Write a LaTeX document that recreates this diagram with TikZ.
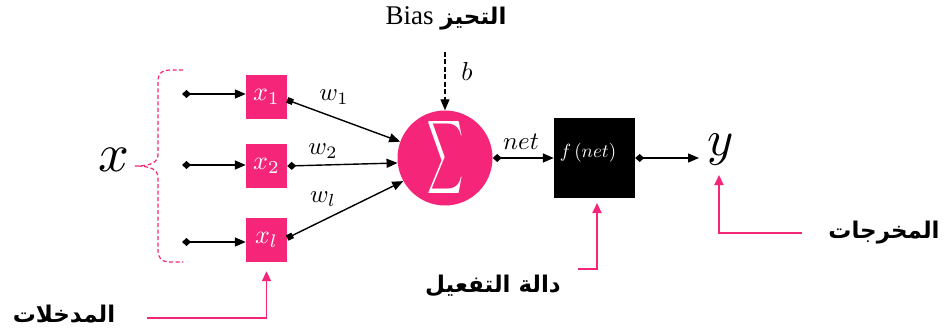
\documentclass[tikz,border=0pt]{standalone}
\usepackage{fontspec}
\usetikzlibrary{arrows.meta}
\TeXXeTstate=1
\newfontfamily\arabicfont[Script=Arabic]{DejaVu Sans}
\newfontfamily\biasfont{Liberation Serif}
\definecolor{mypink}{HTML}{F5267A}
\newcommand{\mth}[2]{\scalebox{#1}{$#2$}}
\tikzset{
  inbox/.style={fill=mypink, minimum width=41pt, minimum height=44pt, inner sep=0pt, text=white},
  blk/.style={line width=1.4pt, draw=black},
  pinkarrow/.style={line width=1.8pt, draw=mypink, -{Triangle[length=10pt,width=9pt]}},
  lbl/.style={inner sep=0pt},
  arlbl/.style={font=\arabicfont\bfseries\fontsize{23}{23}\selectfont, inner sep=0pt}
}
\begin{document}
\begin{tikzpicture}[x=1pt,y=-1pt]
\useasboundingbox (0,0) rectangle (944,331);

% brace
\draw[mypink, line width=1.2pt, dash pattern=on 4pt off 2.5pt]
  (183,70) -- (171,70) .. controls (161,70) and (158,74) .. (158,82) -- (158,154)
  .. controls (158,162) and (152,166) .. (135,166)
  .. controls (152,166) and (158,170) .. (158,178) -- (158,250)
  .. controls (158,258) and (161,262) .. (171,262) -- (183,262);
\node[inner sep=0pt] (xlab) at (114,160) {\mth{5.4}{x}};

% input boxes
\node[inbox] (x1) at (266.5,97) {\mth{2.6}{x_1}};
\node[inbox] (x2) at (266.5,166) {\mth{2.6}{x_2}};
\node[inbox] (xl) at (266.5,240) {\mth{2.6}{x_l}};

\coordinate (s1) at (182,94);
\coordinate (s2) at (182,165);
\coordinate (s3) at (182,242);
\draw[blk, {Diamond[length=9pt,width=8pt]}-{Triangle[length=11pt,width=9pt]}] (s1) -- (s1 -| x1.west);
\draw[blk, {Diamond[length=9pt,width=8pt]}-{Triangle[length=11pt,width=9pt]}] (s2) -- (s2 -| x2.west);
\draw[blk, {Diamond[length=9pt,width=8pt]}-{Triangle[length=11pt,width=9pt]}] (s3) -- (s3 -| xl.west);

% summation
\node[circle, fill=mypink, minimum size=95pt, inner sep=0pt, text=white] (sig) at (445,158)
  {\resizebox{36pt}{54pt}{$\displaystyle\sum$}};

\draw[blk, {Square[length=6pt,width=6pt]}-{Triangle[length=11pt,width=9pt]}] ([yshift=-3pt]x1.east) -- (sig.160);
\draw[blk, {Diamond[length=9pt,width=8pt]}-{Triangle[length=11pt,width=9pt]}] (x2.east) -- (sig.186);
\draw[blk, {Square[length=6pt,width=6pt]}-{Triangle[length=11pt,width=9pt]}] ([yshift=2pt]xl.east) -- (sig.209);

\node[lbl] (w1) at (334,97) {\mth{2.5}{w_1}};
\node[lbl] (w2) at (323,151) {\mth{2.5}{w_2}};
\node[lbl] (wl) at (323,199) {\mth{2.5}{w_l}};

% bias
\node[inner sep=0pt] (bias) at (446,18) {\biasfont\fontsize{27}{27}\selectfont Bias {\arabicfont\bfseries\fontsize{23}{23}\selectfont\beginR التحيز\endR}};
\coordinate (bstart) at (445,52);
\draw[line width=1.3pt, dash pattern=on 5pt off 2.5pt, -{Triangle[length=11pt,width=9pt]}] (bstart) -- (sig.north);
\node[lbl] (b) at (467,71) {\mth{2.6}{b}};

% activation
\node[fill=black, minimum width=81pt, minimum height=80pt, inner sep=0pt] (fbox) at (594.5,158) {};
\node[inner sep=0pt, text=white] (fnet) at (588,153) {\mth{1.9}{f\,(net)}};
\draw[blk, {Diamond[length=9pt,width=8pt]}-{Triangle[length=11pt,width=9pt]}] (sig.east) -- (sig.east -| fbox.west);
\node[lbl] (net) at (521,142) {\mth{2.5}{net}};

% output
\node[inner sep=0pt] (yout) at (721,150) {\mth{5.0}{y}};
\coordinate (yend) at (699,158);
\draw[blk, {Diamond[length=9pt,width=8pt]}-{Triangle[length=11pt,width=9pt]}] (fbox.east) -- (yend);

% callouts
\coordinate (c1) at (147,318);
\coordinate (c2) at (578,269);
\coordinate (c3) at (802,233);
\draw[pinkarrow, shorten >=9pt] (c1) -| (xl.south);
\draw[pinkarrow] (c2) -| (597,203);
\draw[pinkarrow] (c3) -| (719,175);

\node[arlbl] (lin) at (64,314) {\beginR المدخلات\endR};
\node[arlbl] (lact) at (493,286) {\beginR دالة التفعيل\endR};
\node[arlbl] (lout) at (884,233) {\beginR المخرجات\endR};
\end{tikzpicture}
\end{document}
